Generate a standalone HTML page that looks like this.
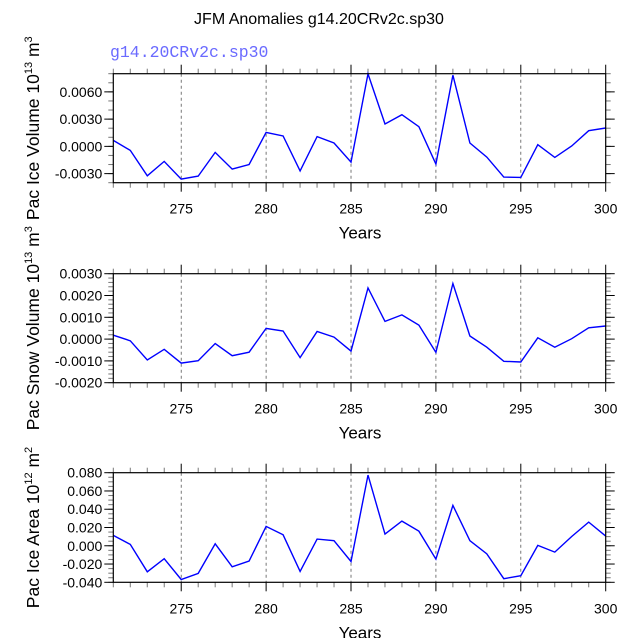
<!DOCTYPE html>
<html><head><meta charset="utf-8"><style>
html,body{margin:0;padding:0;background:#fff;}
svg{display:block;font-family:"Liberation Sans",sans-serif;}
</style></head><body>
<svg id="c" width="638" height="638" viewBox="0 0 638 638">
<text x="319" y="24" text-anchor="middle" font-size="16">JFM Anomalies g14.20CRv2c.sp30</text>
<text x="110" y="57" font-size="16.5" fill="#6a6aff" font-family="Liberation Mono, monospace">g14.20CRv2c.sp30</text>
</svg>
<script>
const years = [271,272,273,274,275,276,277,278,279,280,281,282,283,284,285,286,287,288,289,290,291,292,293,294,295,296,297,298,299,300];
const iceVolume = [0.00066,-0.00044,-0.00324,-0.00165,-0.0036,-0.00327,-0.00066,-0.0025,-0.002,0.00154,0.00114,-0.0027,0.00107,0.00037,-0.00173,0.00798,0.00246,0.00349,0.00217,-0.00195,0.00783,0.00037,-0.00118,-0.00338,-0.00342,0.00018,-0.00121,0.00004,0.00173,0.00202];
const snowVolume = [0.00018,-0.00008,-0.00096,-0.00047,-0.0011,-0.00099,-0.0002,-0.00076,-0.0006,0.00049,0.00037,-0.00085,0.00035,0.00009,-0.00055,0.00235,0.00081,0.00111,0.00064,-0.00061,0.00255,0.00014,-0.00037,-0.00102,-0.00105,0.00006,-0.00037,0.00002,0.00052,0.0006];
const iceArea = [0.0113,0.0015,-0.0285,-0.0142,-0.0369,-0.0303,0.0022,-0.023,-0.0168,0.0212,0.012,-0.0281,0.0073,0.0055,-0.0172,0.0774,0.0128,0.027,0.016,-0.0146,0.0442,0.0055,-0.0088,-0.0361,-0.0328,0.0004,-0.0069,0.0102,0.0259,0.0106];
const xTicks = [275,280,285,290,295,300];
const ticks1 = ["-0.0030","0.0000","0.0030","0.0060"];
const ticks2 = ["-0.0020","-0.0010","0.0000","0.0010","0.0020","0.0030"];
const ticks3 = ["-0.040","-0.020","0.000","0.020","0.040","0.060","0.080"];

const svg = document.getElementById('c');
const NS = 'http://www.w3.org/2000/svg';
function mk(tag, attrs, parent){
  const e = document.createElementNS(NS, tag);
  for (const k in attrs) e.setAttribute(k, attrs[k]);
  (parent||svg).appendChild(e);
  return e;
}
const L = 113.3, R = 605.7;
const xMin = 271, xMax = 300;
function xs(v){ return L + (v - xMin) / (xMax - xMin) * (R - L); }

function panel(cfg){
  const {top, bot, yMin, yMax, ticks, minorStep, values, label, sup, name} = cfg;
  const ys = v => bot - (v - yMin) / (yMax - yMin) * (bot - top);
  const g = mk('g', {});
  
  
  xTicks.forEach(t => {
    if (t === xMax) return;
    const d = mk('line', {x1: xs(t), x2: xs(t), y1: top, y2: bot, stroke: '#555', 'stroke-width': 0.8, 'stroke-dasharray': '3,3'}, g);
    
    
  });
  for (let yv = xMin; yv <= xMax; yv++) {
    const major = xTicks.includes(yv);
    const len = major ? 9 : 5;
    mk('line', {x1: xs(yv), x2: xs(yv), y1: bot, y2: bot + len, stroke: major ? '#000' : '#777', 'stroke-width': 1}, g);
    mk('line', {x1: xs(yv), x2: xs(yv), y1: top, y2: top - len, stroke: major ? '#000' : '#777', 'stroke-width': 1}, g);
  }
  xTicks.forEach(t => {
    const tx = mk('text', {x: xs(t), y: bot + 31, 'text-anchor': 'middle', 'font-size': 14}, g);
    tx.textContent = t;
    
    
  });
  const n = Math.round((yMax - yMin) / minorStep);
  for (let i = 0; i <= n; i++) {
    const v = yMin + i * minorStep;
    mk('line', {x1: L, x2: L - 5, y1: ys(v), y2: ys(v), stroke: '#777', 'stroke-width': 1}, g);
    mk('line', {x1: R, x2: R + 5, y1: ys(v), y2: ys(v), stroke: '#777', 'stroke-width': 1}, g);
  }
  ticks.forEach(s => {
    const v = parseFloat(s);
    mk('line', {x1: L, x2: L - 9, y1: ys(v), y2: ys(v), stroke: '#000', 'stroke-width': 1}, g);
    mk('line', {x1: R, x2: R + 9, y1: ys(v), y2: ys(v), stroke: '#000', 'stroke-width': 1}, g);
    const tx = mk('text', {x: L - 11, y: ys(v) + 5, 'text-anchor': 'end', 'font-size': 14}, g);
    tx.textContent = s;
    
    
  });
  const pts = values.map((v, i) => xs(years[i]).toFixed(1) + ',' + ys(v).toFixed(1)).join(' ');
  const pl = mk('polyline', {points: pts, fill: 'none', stroke: '#0000ff', 'stroke-width': 1.4}, g);
  
  
  const fr = mk('rect', {x: L, y: top, width: R - L, height: bot - top, fill: 'none', stroke: '#000', 'stroke-width': 1.2}, g);
  
  
  const xt = mk('text', {x: 360, y: bot + 56, 'text-anchor': 'middle', 'font-size': 17}, g);
  xt.textContent = 'Years';
  
  
  const cy = (top + bot) / 2;
  const yt = mk('text', {x: 0, y: 0, 'text-anchor': 'middle', 'font-size': 17.5, transform: `translate(39,${cy}) rotate(-90)`}, g);
  
  
  yt.appendChild(document.createTextNode(label + ' 10'));
  const s1 = mk('tspan', {'font-size': 11, dy: -7}, yt); s1.textContent = sup[0];
  const s2 = mk('tspan', {dy: 7}, yt); s2.textContent = ' m';
  const s3 = mk('tspan', {'font-size': 11, dy: -7}, yt); s3.textContent = sup[1];
}
panel({top: 73.7, bot: 182.7, yMin: -0.004, yMax: 0.008, ticks: ticks1, minorStep: 0.001, values: iceVolume, label: 'Pac Ice Volume', sup: ['13','3'], name: 'ice-volume'});
panel({top: 273.7, bot: 382.7, yMin: -0.002, yMax: 0.003, ticks: ticks2, minorStep: 0.0002, values: snowVolume, label: 'Pac Snow Volume', sup: ['13','3'], name: 'snow-volume'});
panel({top: 472.7, bot: 582.3, yMin: -0.04, yMax: 0.08, ticks: ticks3, minorStep: 0.005, values: iceArea, label: 'Pac Ice Area', sup: ['12','2'], name: 'ice-area'});
</script>
</body></html>
